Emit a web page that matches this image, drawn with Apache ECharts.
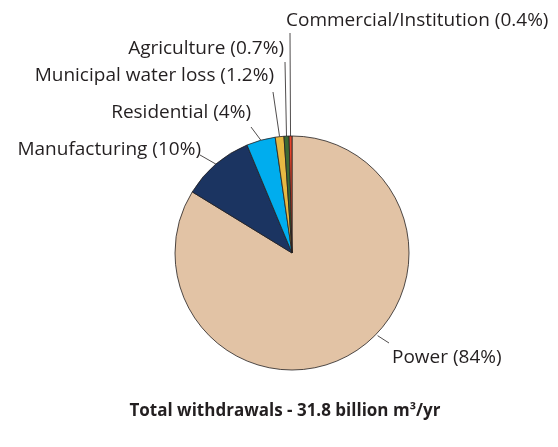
<!DOCTYPE html>
<html>
<head>
<meta charset="utf-8">
<script src="https://cdn.jsdelivr.net/npm/echarts@6/dist/echarts.min.js"></script>
<style>
  html, body { margin: 0; padding: 0; background: #fff; }
  #chart { width: 558px; height: 447px; }
</style>
</head>
<body>
<div id="chart"></div>
<script>
// Water withdrawals by sector (percent of total)
const categories = ['Power', 'Manufacturing', 'Residential', 'Municipal water loss', 'Agriculture', 'Commercial/Institution'];
const shares = [84, 10, 4, 1.2, 0.7, 0.4];
const sliceColors = ['#e2c3a5', '#1b3461', '#00adee', '#e6b843', '#3b6a35', '#e8452c'];
const totalText = 'Total withdrawals - 31.8 billion m³/yr';

const FONT = '"Open Sans", sans-serif';
const TEXT = '#231f20';
const CX = 292, CY = 253, R = 117;

// Where each label sits and where its leader line ends
const labelPlacement = [
  { x: 392, y: 358, align: 'left',  lineEnd: [389, 343], anchorAngle: -44 },
  { x: 201, y: 150, align: 'right', lineEnd: [200, 155] },
  { x: 251, y: 113, align: 'right', lineEnd: [251, 127] },
  { x: 274, y: 76,  align: 'right', lineEnd: [273, 92] },
  { x: 284, y: 49,  align: 'right', lineEnd: [285, 62] },
  { x: 286, y: 21,  align: 'left',  lineEnd: [290, 33] }
];

const chart = echarts.init(document.getElementById('chart'), null, { renderer: 'canvas' });

chart.setOption({
  animation: false,
  title: {
    text: totalText,
    left: 280,
    top: 398,
    textAlign: 'center',
    textStyle: { fontFamily: FONT, fontSize: 17, fontWeight: 'bold', color: TEXT }
  },
  series: [{
    type: 'pie',
    center: [CX, CY],
    radius: R,
    startAngle: 90,
    clockwise: true,
    minAngle: 0,
    avoidLabelOverlap: false,
    data: categories.map((name, i) => ({ name, value: shares[i], itemStyle: { color: sliceColors[i] } })),
    itemStyle: { borderColor: '#231f20', borderWidth: 0.8 },
    label: {
      show: true,
      position: 'outside',
      formatter: p => p.name + ' (' + p.value + '%)',
      fontFamily: FONT,
      fontSize: 19,
      color: TEXT
    },
    labelLine: { show: true, length: 10, length2: 10, lineStyle: { color: TEXT, width: 0.8 } },
    emphasis: { disabled: true },
    labelLayout: function (params) {
      const p = labelPlacement[params.dataIndex];
      let start = params.labelLinePoints ? params.labelLinePoints[0] : p.lineEnd;
      if (p.anchorAngle !== undefined) {
        const a = p.anchorAngle * Math.PI / 180;
        start = [CX + (R + 2) * Math.cos(a), CY - (R + 2) * Math.sin(a)];
      }
      return {
        x: p.x,
        y: p.y,
        align: p.align,
        verticalAlign: 'middle',
        labelLinePoints: [start, p.lineEnd, p.lineEnd]
      };
    }
  }]
});
</script>
</body>
</html>
